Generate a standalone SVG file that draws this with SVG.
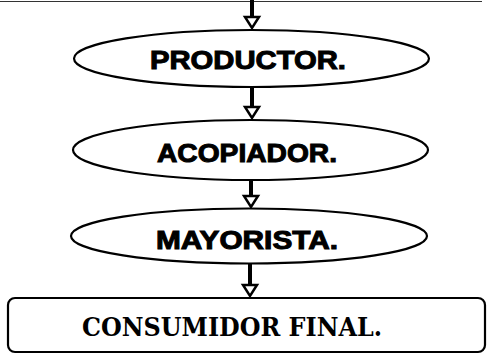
<svg xmlns="http://www.w3.org/2000/svg" width="487" height="355" viewBox="0 0 487 355">
<style>
.node{fill:#fff;stroke:#000;stroke-width:2.2}
.lbl{font-family:"Liberation Sans",Arial,sans-serif;font-weight:bold;font-size:25px;fill:#000;stroke:#000;stroke-width:1;text-anchor:middle}
.lbl2{font-family:"DejaVu Serif","Liberation Serif",serif;font-weight:bold;font-size:26px;fill:#000;text-anchor:middle}
.shaft{stroke:#000;stroke-width:4}
.head{fill:#fff;stroke:#000;stroke-width:2.5;stroke-linejoin:miter}
</style>
<rect width="487" height="355" fill="#fff"/>
<line x1="0" y1="1.5" x2="482" y2="1.5" stroke="#333" stroke-width="1.2"/>
<g id="connectors">
  <line class="shaft" x1="252" y1="0" x2="252" y2="17"/>
  <polygon class="head" points="245,17 259,17 252,28"/>
  <line class="shaft" x1="252" y1="88" x2="252" y2="107"/>
  <polygon class="head" points="245,107 259,107 252,118"/>
  <line class="shaft" x1="251" y1="181" x2="251" y2="196"/>
  <polygon class="head" points="244,196 258,196 251,207"/>
  <line class="shaft" x1="250" y1="264" x2="250" y2="285"/>
  <polygon class="head" points="243,285 257,285 250,296"/>
</g>
<g id="productor">
  <ellipse class="node" cx="251.5" cy="58.5" rx="177.5" ry="28.5"/>
  <text class="lbl" x="248" y="69" textLength="196" lengthAdjust="spacingAndGlyphs">PRODUCTOR.</text>
</g>
<g id="acopiador">
  <ellipse class="node" cx="250.5" cy="150" rx="177.5" ry="30"/>
  <text class="lbl" x="247" y="162" textLength="180" lengthAdjust="spacingAndGlyphs">ACOPIADOR.</text>
</g>
<g id="mayorista">
  <ellipse class="node" cx="249" cy="236" rx="178" ry="27.5"/>
  <text class="lbl" x="247" y="249" textLength="182" lengthAdjust="spacingAndGlyphs">MAYORISTA.</text>
</g>
<g id="consumidor">
  <rect class="node" x="8" y="298" width="477" height="54" rx="7"/>
  <text class="lbl2" x="232" y="336" textLength="300" lengthAdjust="spacingAndGlyphs">CONSUMIDOR FINAL.</text>
</g>
</svg>
